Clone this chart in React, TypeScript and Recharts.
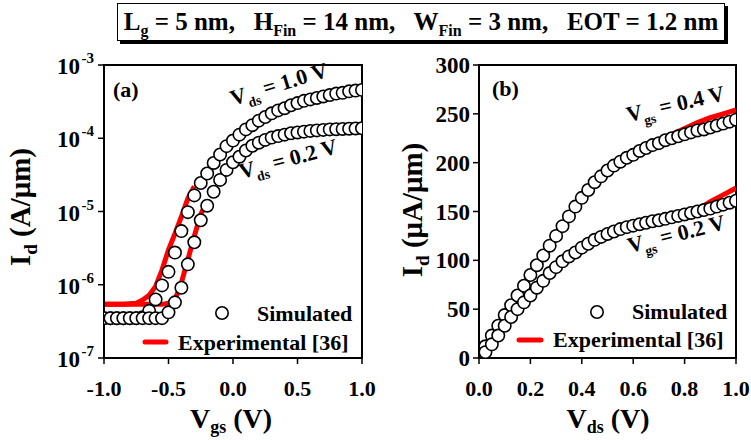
import React from 'react';
import { ComposedChart, Line, Scatter, XAxis, YAxis, ReferenceArea } from 'recharts';

const FONT = '"Liberation Serif", "Times New Roman", serif';

// (a) Id-Vgs, A/um, log scale
const vgsSim = [-1.0, -0.95, -0.9, -0.85, -0.8, -0.75, -0.7, -0.65, -0.6, -0.55, -0.5, -0.45, -0.4, -0.35, -0.3, -0.25, -0.2, -0.15, -0.1, -0.05,
  0.0, 0.05, 0.1, 0.15, 0.2, 0.25, 0.3, 0.35, 0.4, 0.45, 0.5, 0.55, 0.6, 0.65, 0.7, 0.75, 0.8, 0.85, 0.9, 0.95, 1.0];
const idSimVds10 = [3.5e-7, 3.5e-7, 3.5e-7, 3.5e-7, 3.5e-7, 3.5e-7, 3.6e-7, 4.4e-7, 6.3e-7, 9.8e-7, 1.5e-6, 2.75e-6, 5.4e-6, 9.8e-6, 1.66e-5, 2.45e-5, 3.3e-5, 4.6e-5, 6.0e-5, 7.8e-5,
  9.3e-5, 1.12e-4, 1.32e-4, 1.51e-4, 1.74e-4, 1.95e-4, 2.19e-4, 2.4e-4, 2.57e-4, 2.82e-4, 3.02e-4, 3.24e-4, 3.39e-4, 3.55e-4, 3.72e-4, 3.89e-4, 4.07e-4, 4.17e-4, 4.37e-4, 4.47e-4, 4.57e-4];
const idSimVds02 = [3.5e-7, 3.5e-7, 3.5e-7, 3.5e-7, 3.5e-7, 3.5e-7, 3.5e-7, 3.5e-7, 3.5e-7, 3.5e-7, 4.2e-7, 5.75e-7, 9.1e-7, 1.9e-6, 3.8e-6, 7.6e-6, 1.2e-5, 1.86e-5, 2.7e-5, 3.7e-5,
  4.7e-5, 5.6e-5, 6.8e-5, 7.9e-5, 8.7e-5, 9.5e-5, 1.02e-4, 1.07e-4, 1.12e-4, 1.17e-4, 1.2e-4, 1.23e-4, 1.26e-4, 1.28e-4, 1.3e-4, 1.32e-4, 1.33e-4, 1.34e-4, 1.35e-4, 1.36e-4, 1.37e-4];
const vgsExp10 = [-1.0, -0.95, -0.9, -0.85, -0.8, -0.75, -0.7, -0.65, -0.6, -0.55, -0.5, -0.45, -0.4, -0.35, -0.3];
const idExpVds10 = [5.4e-7, 5.4e-7, 5.4e-7, 5.4e-7, 5.5e-7, 5.6e-7, 6.2e-7, 7.2e-7, 9.5e-7, 1.6e-6, 3.0e-6, 5.0e-6, 8.5e-6, 1.5e-5, 2.2e-5];
const vgsExp02 = [-1.0, -0.95, -0.9, -0.85, -0.8, -0.75, -0.7, -0.65, -0.6, -0.55, -0.5, -0.45, -0.4, -0.35, -0.3, -0.25, -0.2];
const idExpVds02 = [5.4e-7, 5.4e-7, 5.4e-7, 5.4e-7, 5.4e-7, 5.4e-7, 5.4e-7, 5.4e-7, 5.4e-7, 5.4e-7, 5.6e-7, 6.2e-7, 1.07e-6, 2.2e-6, 4.6e-6, 9.1e-6, 1.4e-5];
const logTicks = [1e-7, 1e-6, 1e-5, 1e-4, 1e-3];
const logMinor = [1, 2, 3, 4, 5, 6, 7, 8, 9].flatMap((m) => [1e-7, 1e-6, 1e-5, 1e-4].map((d) => m * d));
const vgsTicks = [-1.0, -0.5, 0.0, 0.5, 1.0];
const vgsMinor = [-1.0, -0.75, -0.5, -0.25, 0.0, 0.25, 0.5, 0.75, 1.0];

// (b) Id-Vds, uA/um
const vdsSim = [0.025, 0.05, 0.075, 0.1, 0.125, 0.15, 0.175, 0.2, 0.225, 0.25, 0.275, 0.3, 0.325, 0.35, 0.375, 0.4, 0.425, 0.45, 0.475, 0.5,
  0.525, 0.55, 0.575, 0.6, 0.625, 0.65, 0.675, 0.7, 0.725, 0.75, 0.775, 0.8, 0.825, 0.85, 0.875, 0.9, 0.925, 0.95, 0.975, 1.0];
const idSimVgs04 = [12, 23, 33, 44, 54, 64, 74, 85, 95, 105, 115, 125, 135, 145, 155, 164, 172, 180, 186, 192,
  197, 201, 205, 208, 212, 215, 218, 220, 223, 225, 227, 229, 231, 233, 234, 236, 238, 240, 242, 244];
const idSimVgs02 = [6, 14, 23, 33, 42, 50, 57, 64, 72, 79, 87, 93, 99, 104, 108, 113, 117, 121, 124, 127,
  129.5, 132, 134, 135.5, 137, 138.5, 140, 141, 142.5, 144, 145.5, 147, 148.5, 150, 151.5, 153, 155, 157, 159, 161];
const vdsExp04 = [0.6, 0.65, 0.7, 0.75, 0.8, 0.85, 0.9, 0.95, 1.0];
const idExpVgs04 = [208, 215, 221, 229, 235, 241, 246, 250, 254];
const vdsExp02 = [0.8, 0.85, 0.9, 0.95, 1.0];
const idExpVgs02 = [147, 152, 160, 167, 174];
const linTicks = [0, 50, 100, 150, 200, 250, 300];
const linMinor = [0, 25, 50, 75, 100, 125, 150, 175, 200, 225, 250, 275, 300];
const vdsTicks = [0.0, 0.2, 0.4, 0.6, 0.8, 1.0];
const vdsMinor = [0.0, 0.1, 0.2, 0.3, 0.4, 0.5, 0.6, 0.7, 0.8, 0.9, 1.0];

const pts = (xs: number[], ys: number[]) => xs.map((x, i) => ({ x, y: ys[i] }));

const OpenCircle = (p: any) => (
  <circle cx={p.cx} cy={p.cy} r={6.2} fill="#fff" stroke="#000" strokeWidth={1.6} />
);

const tickFont = { fontFamily: FONT, fontWeight: 'bold', fontSize: 22, fill: '#000' };

const LogTick = (p: any) => {
  const e = Math.round(Math.log10(p.payload.value));
  return (
    <text x={p.x - 16} y={p.y + 9} textAnchor="end" {...tickFont} fontSize={23}>
      10
      <tspan x={p.x - 2} dy={-11} fontSize={15} textAnchor="end">{e}</tspan>
    </text>
  );
};

const Sub = ({ children, big = 22 }: any) => (
  <>
    <tspan dy={big * 0.3} fontSize={big * 0.62}>{children}</tspan>
    <tspan dy={-big * 0.3}>{' '}</tspan>
  </>
);

const bold = { fontFamily: FONT, fontWeight: 'bold' as const, fill: '#000' };

function PanelA() {
  return (
    <ComposedChart width={380} height={440} margin={{ top: 65, right: 18, bottom: 0, left: 0 }}>
      <XAxis xAxisId="minor" type="number" dataKey="x" domain={[-1, 1]} ticks={vgsMinor} mirror tick={false}
        tickSize={4} tickLine={{ stroke: '#000', strokeWidth: 1.5 }} axisLine={false} height={0} allowDataOverflow />
      <XAxis type="number" dataKey="x" domain={[-1, 1]} ticks={vgsTicks} tickFormatter={(v: number) => v.toFixed(1)}
        tick={tickFont} tickSize={6} tickMargin={16} tickLine={{ stroke: '#000', strokeWidth: 1.5 }}
        axisLine={{ stroke: '#000', strokeWidth: 2 }} height={82} allowDataOverflow />
      <YAxis yAxisId="minor" scale="log" type="number" domain={[1e-7, 1e-3]} ticks={logMinor} mirror tick={false}
        tickSize={4} tickLine={{ stroke: '#000', strokeWidth: 1.2 }} axisLine={false} width={0} allowDataOverflow />
      <YAxis scale="log" type="number" dataKey="y" domain={[1e-7, 1e-3]} ticks={logTicks} tick={<LogTick />}
        tickSize={6} tickMargin={2} tickLine={{ stroke: '#000', strokeWidth: 1.5 }}
        axisLine={{ stroke: '#000', strokeWidth: 2 }} width={104} allowDataOverflow />
      <ReferenceArea x1={-1} x2={1} y1={1e-7} y2={1e-3} fill="none" stroke="#000" strokeWidth={2} ifOverflow="visible" />
      <Line data={pts(vgsExp10, idExpVds10)} dataKey="y" stroke="#ff0000" strokeWidth={5} dot={false} isAnimationActive={false} />
      <Line data={pts(vgsExp02, idExpVds02)} dataKey="y" stroke="#ff0000" strokeWidth={5} dot={false} isAnimationActive={false} />
      <Scatter data={pts(vgsSim, idSimVds10)} dataKey="y" shape={OpenCircle} isAnimationActive={false} />
      <Scatter data={pts(vgsSim, idSimVds02)} dataKey="y" shape={OpenCircle} isAnimationActive={false} />
    </ComposedChart>
  );
}

function PanelB() {
  return (
    <ComposedChart width={371} height={440} margin={{ top: 65, right: 15, bottom: 0, left: 0 }}>
      <XAxis xAxisId="minor" type="number" dataKey="x" domain={[0, 1]} ticks={vdsMinor} mirror tick={false}
        tickSize={4} tickLine={{ stroke: '#000', strokeWidth: 1.5 }} axisLine={false} height={0} allowDataOverflow />
      <XAxis type="number" dataKey="x" domain={[0, 1]} ticks={vdsTicks} tickFormatter={(v: number) => v.toFixed(1)}
        tick={tickFont} tickSize={6} tickMargin={16} tickLine={{ stroke: '#000', strokeWidth: 1.5 }}
        axisLine={{ stroke: '#000', strokeWidth: 2 }} height={82} allowDataOverflow />
      <YAxis yAxisId="minor" type="number" domain={[0, 300]} ticks={linMinor} mirror tick={false}
        tickSize={4} tickLine={{ stroke: '#000', strokeWidth: 1.5 }} axisLine={false} width={0} allowDataOverflow />
      <YAxis type="number" dataKey="y" domain={[0, 300]} ticks={linTicks} tick={{ ...tickFont, fontSize: 23 }}
        tickSize={6} tickMargin={3} tickLine={{ stroke: '#000', strokeWidth: 1.5 }}
        axisLine={{ stroke: '#000', strokeWidth: 2 }} width={99} allowDataOverflow />
      <ReferenceArea x1={0} x2={1} y1={0} y2={300} fill="none" stroke="#000" strokeWidth={2} ifOverflow="visible" />
      <Line data={pts(vdsExp04, idExpVgs04)} dataKey="y" stroke="#ff0000" strokeWidth={5} dot={false} isAnimationActive={false} />
      <Line data={pts(vdsExp02, idExpVgs02)} dataKey="y" stroke="#ff0000" strokeWidth={5} dot={false} isAnimationActive={false} />
      <Scatter data={pts(vdsSim, idSimVgs04)} dataKey="y" shape={OpenCircle} isAnimationActive={false} />
      <Scatter data={pts(vdsSim, idSimVgs02)} dataKey="y" shape={OpenCircle} isAnimationActive={false} />
    </ComposedChart>
  );
}

function Labels() {
  return (
    <svg width={751} height={440} style={{ position: 'absolute', left: 0, top: 0, pointerEvents: 'none' }}>
      {/* axis titles */}
      <text transform="translate(30,207) rotate(-90)" textAnchor="middle" fontSize={29} {...bold}>
        I<tspan dy={7} fontSize={19}>d</tspan><tspan dy={-7}> (A/μm)</tspan>
      </text>
      <text transform="translate(422,210) rotate(-90)" textAnchor="middle" fontSize={29} {...bold}>
        I<tspan dy={7} fontSize={19}>d</tspan><tspan dy={-7}> (μA/μm)</tspan>
      </text>
      <text x={231} y={428} textAnchor="middle" fontSize={28} {...bold}>
        V<tspan dy={5} fontSize={18}>gs</tspan><tspan dy={-5}> (V)</tspan>
      </text>
      <text x={608} y={428} textAnchor="middle" fontSize={28} {...bold}>
        V<tspan dy={5} fontSize={18}>ds</tspan><tspan dy={-5}> (V)</tspan>
      </text>

      <text x={113} y={97} fontSize={22} {...bold}>(a)</text>
      <text x={492} y={96} fontSize={22} {...bold}>(b)</text>

      {/* curve labels */}
      <text transform="translate(281,91) rotate(-17)" textAnchor="middle" fontSize={22} {...bold}>
        V<Sub>ds</Sub>= 1.0 V
      </text>
      <text transform="translate(290,166) rotate(-15)" textAnchor="middle" fontSize={22} {...bold}>
        V<Sub>ds</Sub>= 0.2 V
      </text>
      <text transform="translate(677,111) rotate(-12.7)" textAnchor="middle" fontSize={22} {...bold}>
        V<Sub>gs</Sub>= 0.4 V
      </text>
      <text transform="translate(678,241) rotate(-14)" textAnchor="middle" fontSize={22} {...bold}>
        V<Sub>gs</Sub>= 0.2 V
      </text>

      {/* legends */}
      <circle cx={222} cy={313} r={6.2} fill="#fff" stroke="#000" strokeWidth={1.6} />
      <text x={257} y={321} fontSize={22} {...bold}>Simulated</text>
      <line x1={145} x2={166} y1={342} y2={342} stroke="#ff0000" strokeWidth={5} strokeLinecap="round" />
      <text x={178} y={350} fontSize={22} {...bold}>Experimental [36]</text>

      <circle cx={597} cy={312} r={6.2} fill="#fff" stroke="#000" strokeWidth={1.6} />
      <text x={632} y={319} fontSize={22} {...bold}>Simulated</text>
      <line x1={519} x2={541} y1={340} y2={340} stroke="#ff0000" strokeWidth={5} strokeLinecap="round" />
      <text x={553} y={347} fontSize={22} {...bold}>Experimental [36]</text>
    </svg>
  );
}

function TitleBox() {
  const sub = { fontSize: 16, verticalAlign: 'sub' as const, lineHeight: 0 };
  return (
    <div style={{
      position: 'absolute', left: 117, top: 3, width: 606, height: 36, border: '1.5px solid #000',
      boxShadow: '3px 3px 0 #000', fontFamily: FONT, fontWeight: 'bold', fontSize: 25, lineHeight: '36px',
      textAlign: 'center', whiteSpace: 'pre', background: '#fff', overflow: 'hidden',
    }}>
      L<span style={sub}>g</span> = 5 nm,   H<span style={sub}>Fin</span> = 14 nm,   W<span style={sub}>Fin</span> = 3 nm,   EOT = 1.2 nm
    </div>
  );
}

export default function App() {
  return (
    <div style={{ position: 'absolute', left: 0, top: 0, width: 751, height: 440, background: '#fff' }}>
      <div style={{ position: 'absolute', left: 0, top: 0 }}><PanelA /></div>
      <div style={{ position: 'absolute', left: 380, top: 0 }}><PanelB /></div>
      <Labels />
      <TitleBox />
    </div>
  );
}
